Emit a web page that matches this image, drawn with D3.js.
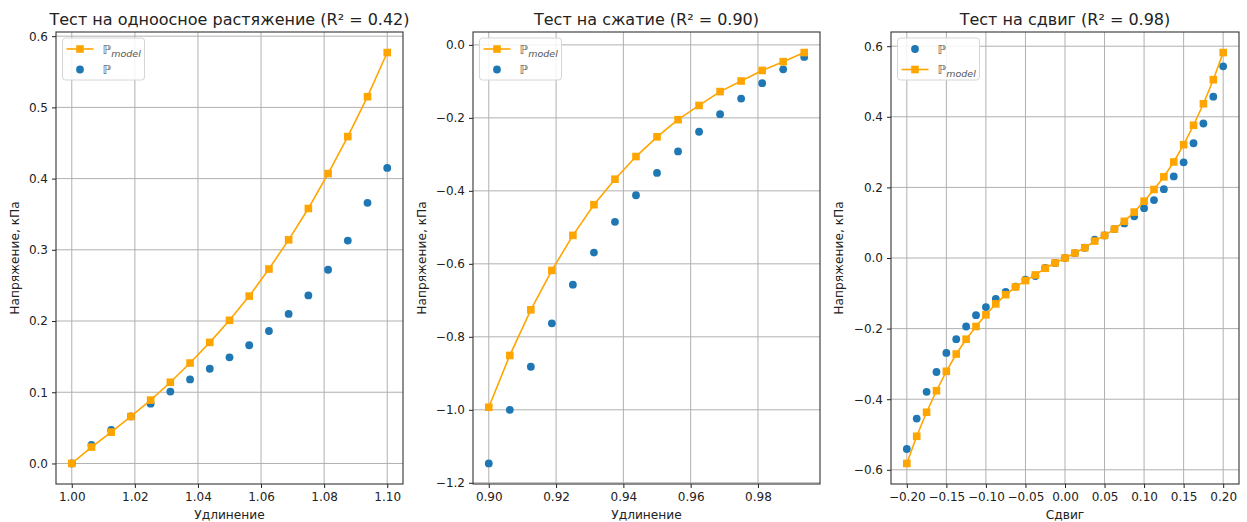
<!DOCTYPE html>
<html>
<head>
<meta charset="utf-8">
<script src="https://cdn.jsdelivr.net/npm/d3@7"></script>
<style>
  html, body { margin: 0; padding: 0; background: #fff; }
  svg { display: block; }
  text { font-family: "DejaVu Sans", sans-serif; }
</style>
</head>
<body>
<svg id="chart" width="1247" height="522"></svg>
<script>
// Uniaxial tension: stretch ratio, measured stress P and model stress P_model (kPa)
const tensionX = [1.00, 1.00625, 1.0125, 1.01875, 1.025, 1.03125, 1.0375, 1.04375, 1.05,
  1.05625, 1.0625, 1.06875, 1.075, 1.08125, 1.0875, 1.09375, 1.10];
const tensionP = [0.000, 0.026, 0.047, 0.066, 0.084, 0.101, 0.118, 0.133, 0.149,
  0.166, 0.186, 0.210, 0.236, 0.272, 0.313, 0.366, 0.415];
const tensionModel = [0.000, 0.023, 0.044, 0.066, 0.089, 0.114, 0.141, 0.170, 0.201,
  0.235, 0.273, 0.314, 0.358, 0.407, 0.459, 0.515, 0.577];

// Compression
const compX = [0.90, 0.90625, 0.9125, 0.91875, 0.925, 0.93125, 0.9375, 0.94375, 0.95,
  0.95625, 0.9625, 0.96875, 0.975, 0.98125, 0.9875, 0.99375];
const compP = [-1.147, -1.000, -0.882, -0.763, -0.657, -0.569, -0.485, -0.412, -0.351,
  -0.292, -0.238, -0.190, -0.147, -0.105, -0.067, -0.033];
const compModel = [-0.993, -0.851, -0.726, -0.618, -0.522, -0.438, -0.368, -0.306, -0.252,
  -0.205, -0.166, -0.128, -0.099, -0.070, -0.046, -0.021];

// Simple shear
const shearX = [-0.2, -0.1875, -0.175, -0.1625, -0.15, -0.1375, -0.125, -0.1125, -0.1,
  -0.0875, -0.075, -0.0625, -0.05, -0.0375, -0.025, -0.0125, 0,
  0.0125, 0.025, 0.0375, 0.05, 0.0625, 0.075, 0.0875, 0.1,
  0.1125, 0.125, 0.1375, 0.15, 0.1625, 0.175, 0.1875, 0.2];
const shearP = [-0.541, -0.455, -0.379, -0.323, -0.269, -0.230, -0.194, -0.162, -0.139,
  -0.116, -0.096, -0.081, -0.061, -0.051, -0.028, -0.014, 0.000,
  0.014, 0.029, 0.052, 0.064, 0.082, 0.098, 0.118, 0.141,
  0.164, 0.195, 0.231, 0.271, 0.325, 0.381, 0.457, 0.543];
const shearModel = [-0.582, -0.505, -0.437, -0.376, -0.321, -0.272, -0.230, -0.194, -0.161,
  -0.130, -0.104, -0.082, -0.064, -0.048, -0.029, -0.014, 0.000,
  0.014, 0.029, 0.048, 0.064, 0.082, 0.104, 0.130, 0.161,
  0.194, 0.230, 0.272, 0.321, 0.376, 0.437, 0.505, 0.582];

// Tick values
const tensionXTicks = [1.00, 1.02, 1.04, 1.06, 1.08, 1.10];
const tensionYTicks = [0.0, 0.1, 0.2, 0.3, 0.4, 0.5, 0.6];
const compXTicks = [0.90, 0.92, 0.94, 0.96, 0.98];
const compYTicks = [-1.2, -1.0, -0.8, -0.6, -0.4, -0.2, 0.0];
const shearXTicks = [-0.20, -0.15, -0.10, -0.05, 0.00, 0.05, 0.10, 0.15, 0.20];
const shearYTicks = [-0.6, -0.4, -0.2, 0.0, 0.2, 0.4, 0.6];

const titles = [
  "Тест на одноосное растяжение (R² = 0.42)",
  "Тест на сжатие (R² = 0.90)",
  "Тест на сдвиг (R² = 0.98)"
];
const xLabels = ["Удлинение", "Удлинение", "Сдвиг"];
const yLabel = "Напряжение, кПа";

const BLUE = "#1f77b4";
const ORANGE = "#ffa500";
const fmtMinus = f => v => f(v).replace("-", "\u2212");

const svg = d3.select("#chart");

// matplotlib-style padded extent
function padded(arrs) {
  const all = arrs.flat();
  const lo = d3.min(all), hi = d3.max(all);
  const m = (hi - lo) * 0.05;
  return [lo - m, hi + m];
}

const panels = [
  { box: [56, 403], x: tensionX, p: tensionP, m: tensionModel,
    xt: tensionXTicks, yt: tensionYTicks, xf: d3.format(".2f"), yf: d3.format(".1f"),
    legend: ["model", "data"], yLabelX: 15 },
  { box: [473, 820], x: compX, p: compP, m: compModel,
    xt: compXTicks, yt: compYTicks, xf: d3.format(".2f"), yf: fmtMinus(d3.format(".1f")),
    legend: ["model", "data"], yLabelX: 422 },
  { box: [891, 1239], x: shearX, p: shearP, m: shearModel,
    xt: shearXTicks, yt: shearYTicks, xf: fmtMinus(d3.format(".2f")), yf: fmtMinus(d3.format(".1f")),
    legend: ["data", "model"], yLabelX: 839 }
];

const TOP = 32, BOTTOM = 484;
const TICK_FONT = "12px";
const LABEL_FONT = "12.2px";

panels.forEach((cfg, i) => {
  const [L, R] = cfg.box;
  const x = d3.scaleLinear().domain(padded([cfg.x])).range([L, R]);
  const y = d3.scaleLinear().domain(padded([cfg.p, cfg.m])).range([BOTTOM, TOP]);
  const g = svg.append("g");

  // grid
  g.append("g").selectAll("line").data(cfg.xt).join("line")
    .attr("x1", d => x(d)).attr("x2", d => x(d))
    .attr("y1", TOP).attr("y2", BOTTOM)
    .attr("stroke", "#b0b0b0").attr("stroke-width", 1);
  g.append("g").selectAll("line").data(cfg.yt).join("line")
    .attr("x1", L).attr("x2", R)
    .attr("y1", d => y(d)).attr("y2", d => y(d))
    .attr("stroke", "#b0b0b0").attr("stroke-width", 1);

  // measured points
  g.append("g").selectAll("circle").data(cfg.x).join("circle")
    .attr("cx", d => x(d)).attr("cy", (d, k) => y(cfg.p[k]))
    .attr("r", 3.9).attr("fill", BLUE);

  // model curve with square markers
  const line = d3.line().x(d => x(d[0])).y(d => y(d[1]));
  g.append("path").datum(cfg.x.map((d, k) => [d, cfg.m[k]]))
    .attr("d", line).attr("fill", "none")
    .attr("stroke", ORANGE).attr("stroke-width", 1.6);
  g.append("g").selectAll("rect").data(cfg.x).join("rect")
    .attr("x", d => x(d) - 3.8).attr("y", (d, k) => y(cfg.m[k]) - 3.8)
    .attr("width", 7.6).attr("height", 7.6).attr("fill", ORANGE);

  // axes
  const xa = g.append("g").attr("transform", `translate(0,${BOTTOM})`)
    .call(d3.axisBottom(x).tickValues(cfg.xt).tickFormat(cfg.xf).tickSizeOuter(0).tickSize(4).tickPadding(4));
  const ya = g.append("g").attr("transform", `translate(${L},0)`)
    .call(d3.axisLeft(y).tickValues(cfg.yt).tickFormat(cfg.yf).tickSizeOuter(0).tickSize(4).tickPadding(4));
  [xa, ya].forEach(a => {
    a.select(".domain").remove();
    a.selectAll(".tick line").attr("stroke", "#222").attr("stroke-width", 1);
    a.selectAll(".tick text").attr("fill", "#222")
      .style("font-size", TICK_FONT).style("font-family", "DejaVu Sans, sans-serif");
  });

  // frame
  g.append("rect").attr("x", L).attr("y", TOP)
    .attr("width", R - L).attr("height", BOTTOM - TOP)
    .attr("fill", "none").attr("stroke", "#333").attr("stroke-width", 1.1);

  // title and labels
  g.append("text").attr("x", (L + R) / 2).attr("y", 25)
    .attr("text-anchor", "middle").attr("fill", "#222")
    .style("font-size", "16px").text(titles[i]);
  g.append("text").attr("x", (L + R) / 2).attr("y", 518.5)
    .attr("text-anchor", "middle").attr("fill", "#222")
    .style("font-size", LABEL_FONT).text(xLabels[i]);
  g.append("text")
    .attr("transform", `translate(${cfg.yLabelX},${(TOP + BOTTOM) / 2}) rotate(-90)`)
    .attr("text-anchor", "middle").attr("dominant-baseline", "central").attr("fill", "#222")
    .style("font-size", LABEL_FONT).text(yLabel);

  // legend
  const lx = L + 6.5, ly = TOP + 6;
  const lg = g.append("g");
  lg.append("rect").attr("x", lx).attr("y", ly).attr("width", 82).attr("height", 42)
    .attr("rx", 3).attr("fill", "#fff").attr("fill-opacity", 0.85)
    .attr("stroke", "#d6d6d6").attr("stroke-width", 1);
  cfg.legend.forEach((kind, r) => {
    const cy = ly + 11 + r * 20.5;
    const hx = lx + 17.5;
    if (kind === "model") {
      lg.append("line").attr("x1", lx + 4).attr("x2", lx + 31)
        .attr("y1", cy).attr("y2", cy).attr("stroke", ORANGE).attr("stroke-width", 1.6);
      lg.append("rect").attr("x", hx - 3.8).attr("y", cy - 3.8)
        .attr("width", 7.6).attr("height", 7.6).attr("fill", ORANGE);
    } else {
      lg.append("circle").attr("cx", hx).attr("cy", cy).attr("r", 3.9).attr("fill", BLUE);
    }
    const t = lg.append("text").attr("x", lx + 40).attr("y", cy + 4.5)
      .attr("fill", "#555").style("font-size", "12.5px").style("font-style", "italic");
    t.append("tspan").text("ℙ");
    if (kind === "model") {
      t.append("tspan").attr("dy", 3).style("font-size", "9.5px").text("model");
    }
  });
});
</script>
</body>
</html>
